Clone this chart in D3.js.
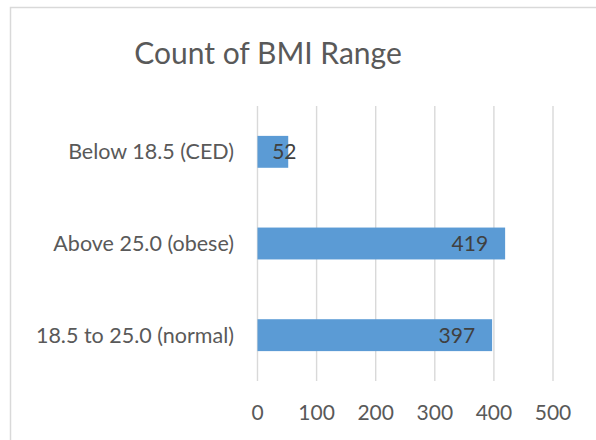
<!DOCTYPE html>
<html>
<head>
<meta charset="utf-8">
<script src="https://cdn.jsdelivr.net/npm/d3@7"></script>
<style>
  body { margin: 0; background: #fff; }
  text { font-family: Lato, "Open Sans", sans-serif; }
</style>
</head>
<body>
<script>
// data
var categories = ["Below 18.5 (CED)", "Above 25.0 (obese)", "18.5 to 25.0 (normal)"];
var counts = [52, 419, 397];
var tickValues = [0, 100, 200, 300, 400, 500];
var title = "Count of BMI Range";

const width = 596, height = 440;
const plot = { left: 257.5, right: 553, top: 106, bottom: 381 };

const svg = d3.select("body")
    .append("svg")
    .attr("width", width)
    .attr("height", height);

// chart frame (cut off on the right and bottom in the reference)
svg.append("rect")
    .attr("x", 10.5).attr("y", 7.5)
    .attr("width", 700).attr("height", 600)
    .attr("fill", "none")
    .attr("stroke", "#d9d9d9")
    .attr("stroke-width", 1.5);

svg.append("text")
    .attr("x", 268).attr("y", 64)
    .attr("text-anchor", "middle")
    .attr("fill", "#595959")
    .attr("font-size", "30px")
    .text(title);

var x = d3.scaleLinear().domain([0, 500]).range([plot.left, plot.right]);
var y = d3.scaleBand().domain(categories).range([plot.top, plot.bottom]).paddingInner(0.652).paddingOuter(0.326);

// gridlines
svg.append("g")
    .selectAll("line")
    .data(tickValues)
    .enter()
    .append("line")
    .attr("x1", d => x(d)).attr("x2", d => x(d))
    .attr("y1", plot.top).attr("y2", plot.bottom)
    .attr("stroke", "#d9d9d9")
    .attr("stroke-width", 1.4);

// x tick labels
svg.append("g")
    .selectAll("text")
    .data(tickValues)
    .enter()
    .append("text")
    .attr("x", d => x(d)).attr("y", 420)
    .attr("text-anchor", "middle")
    .attr("fill", "#595959")
    .attr("font-size", "21px")
    .text(d => d);

// category labels
svg.append("g")
    .selectAll("text")
    .data(categories)
    .enter()
    .append("text")
    .attr("x", 234)
    .attr("y", d => y(d) + y.bandwidth() / 2)
    .attr("dy", "0.35em")
    .attr("text-anchor", "end")
    .attr("fill", "#595959")
    .attr("font-size", "21.5px")
    .text(d => d);

// bars
var bars = svg.append("g")
    .selectAll("g")
    .data(categories.map((c, i) => ({ cat: c, value: counts[i] })))
    .enter()
    .append("g");

bars.append("rect")
    .attr("x", x(0))
    .attr("y", d => y(d.cat))
    .attr("width", d => x(d.value) - x(0))
    .attr("height", y.bandwidth())
    .attr("fill", "#5b9bd5");

bars.append("text")
    .attr("x", d => Math.max(x(d.value) - 17, x(0) + 39))
    .attr("y", d => y(d.cat) + y.bandwidth() / 2)
    .attr("dy", "0.35em")
    .attr("text-anchor", "end")
    .attr("fill", "#404040")
    .attr("font-size", "21px")
    .text(d => d.value);
</script>
</body>
</html>
